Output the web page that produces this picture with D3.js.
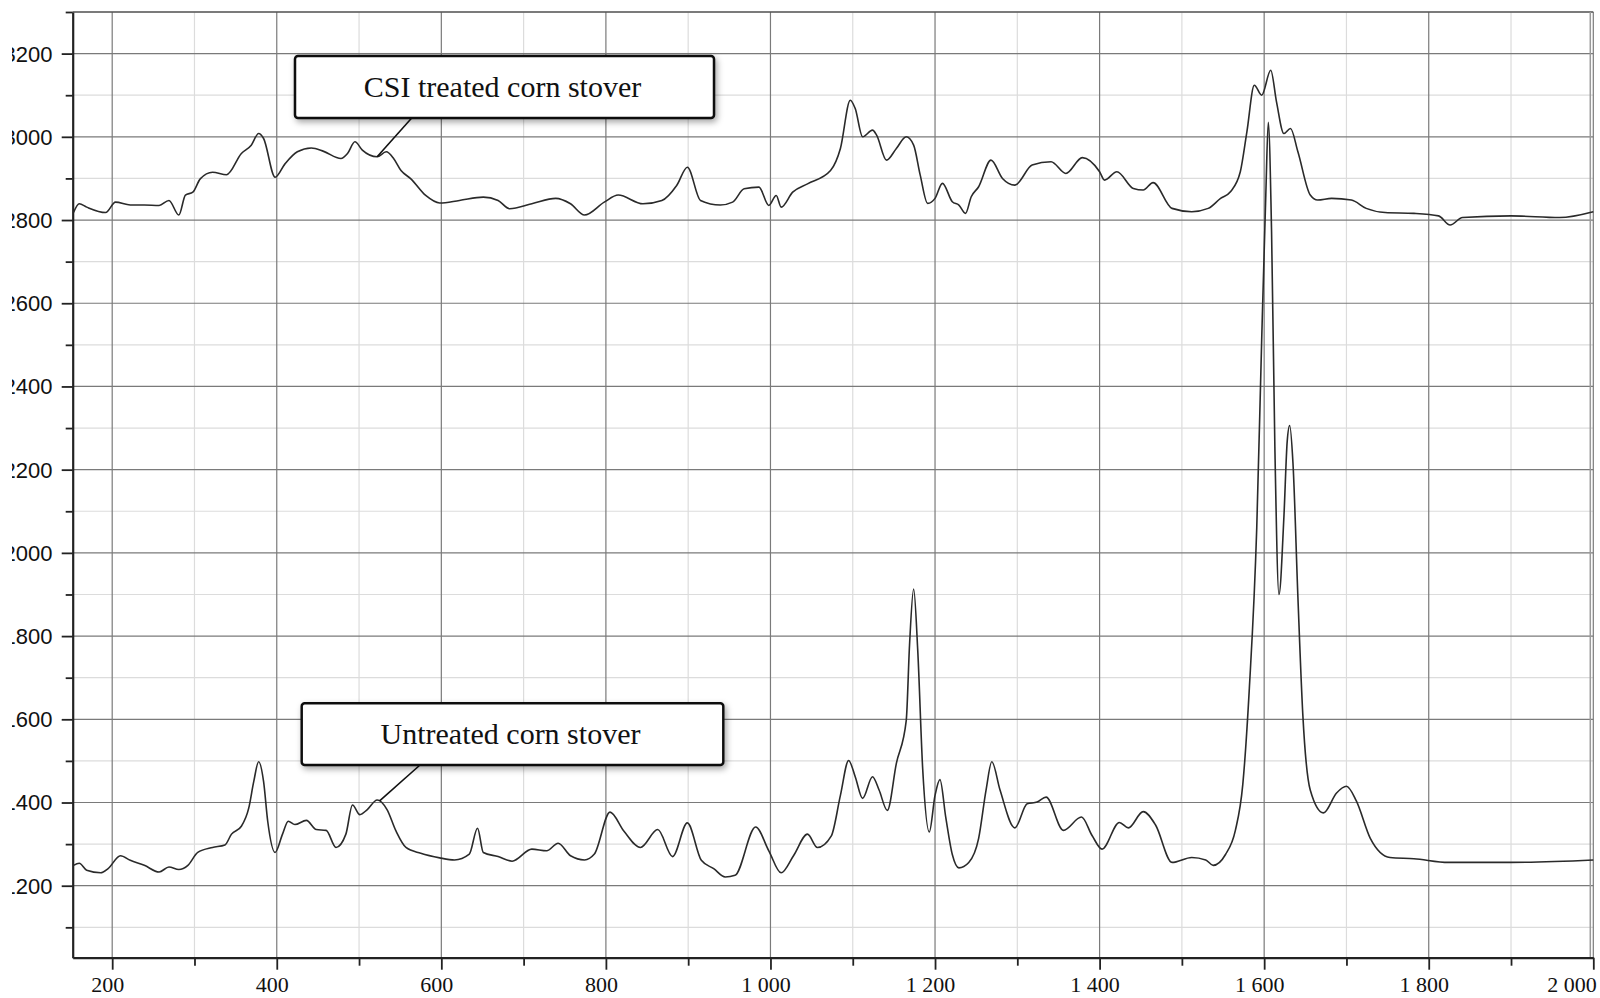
<!DOCTYPE html>
<html>
<head>
<meta charset="utf-8">
<script src="https://cdn.jsdelivr.net/npm/d3@7"></script>
<style>
  body { margin: 0; background: #fff; }
  svg { display: block; }
</style>
</head>
<body>
<div id="chart"></div>
<script>
// Raman spectra: [wavenumber, intensity]
var treated = [
  [153,2818],[160,2839],[169,2831],[192,2818],[204,2843],[222,2836],[239,2836],[257,2835],[269,2847],[281,2812],
  [289,2860],[298,2867],[307,2899],[322,2915],[339,2909],[357,2960],[369,2980],[378,3008],[384,2996],[398,2903],
  [410,2935],[425,2964],[442,2973],[457,2965],[478,2948],[486,2960],[495,2988],[504,2968],[522,2952],[533,2964],
  [542,2948],[551,2919],[563,2899],[581,2859],[598,2841],[622,2847],[651,2855],[669,2847],[683,2827],[710,2839],
  [739,2852],[757,2839],[774,2812],[798,2843],[815,2860],[845,2839],[868,2847],[886,2883],[899,2927],[915,2847],
  [939,2836],[954,2843],[968,2875],[986,2879],[998,2835],[1007,2859],[1013,2831],[1027,2867],[1045,2887],[1073,2919],
  [1085,2972],[1097,3088],[1103,3068],[1112,3000],[1124,3016],[1129,3004],[1141,2944],[1153,2972],[1165,3000],[1174,2980],
  [1182,2908],[1191,2840],[1200,2852],[1209,2888],[1221,2844],[1229,2836],[1237,2816],[1244,2856],[1253,2880],[1268,2944],
  [1282,2900],[1297,2884],[1318,2932],[1341,2940],[1359,2912],[1379,2950],[1400,2916],[1406,2896],[1421,2916],[1441,2876],
  [1453,2872],[1465,2890],[1488,2828],[1512,2820],[1532,2828],[1547,2852],[1559,2868],[1571,2916],[1579,3012],[1588,3124],
  [1597,3100],[1608,3160],[1615,3084],[1624,3008],[1632,3020],[1641,2964],[1656,2860],[1665,2848],[1682,2852],[1706,2848],
  [1724,2828],[1747,2818],[1782,2816],[1812,2810],[1826,2788],[1841,2806],[1900,2810],[1959,2806],[2000,2820]
];

var untreated = [
  [153,1249],[160,1254],[169,1237],[186,1231],[195,1241],[210,1272],[222,1261],[239,1249],[257,1233],[269,1245],
  [281,1239],[292,1249],[304,1280],[322,1292],[337,1298],[345,1324],[357,1343],[366,1387],[372,1450],[378,1498],
  [384,1450],[389,1355],[398,1280],[407,1324],[414,1355],[422,1347],[436,1357],[448,1335],[460,1333],[472,1292],
  [484,1324],[492,1394],[501,1371],[510,1383],[522,1406],[534,1383],[545,1331],[557,1292],[575,1278],[598,1267],
  [616,1262],[634,1276],[644,1338],[651,1280],[669,1270],[686,1259],[710,1288],[728,1284],[742,1302],[757,1272],
  [774,1262],[786,1276],[805,1377],[822,1331],[842,1292],[863,1335],[881,1270],[899,1351],[916,1261],[931,1241],
  [945,1221],[957,1225],[982,1341],[998,1284],[1013,1231],[1028,1272],[1045,1324],[1057,1292],[1074,1320],[1085,1417],
  [1095,1501],[1103,1462],[1112,1410],[1124,1462],[1132,1430],[1142,1381],[1153,1494],[1165,1597],[1169,1778],[1174,1913],
  [1179,1765],[1185,1481],[1193,1329],[1200,1417],[1206,1455],[1213,1365],[1221,1275],[1229,1243],[1241,1256],[1253,1314],
  [1262,1430],[1269,1498],[1279,1430],[1297,1339],[1312,1397],[1324,1401],[1335,1413],[1356,1333],[1378,1365],[1391,1320],
  [1403,1288],[1424,1352],[1435,1339],[1453,1378],[1468,1346],[1488,1256],[1512,1268],[1529,1262],[1538,1249],[1553,1275],
  [1565,1333],[1574,1443],[1582,1675],[1591,2061],[1597,2513],[1602,2861],[1605,3035],[1609,2771],[1613,2255],[1618,1900],
  [1624,2087],[1628,2268],[1631,2306],[1635,2216],[1641,1894],[1647,1610],[1656,1430],[1672,1375],[1688,1423],[1700,1439],
  [1712,1404],[1729,1314],[1753,1268],[1782,1265],[1824,1256],[1900,1256],[2000,1262]
];

var xTicks = [200, 400, 600, 800, 1000, 1200, 1400, 1600, 1800, 2000];
var yTicks = [1200, 1400, 1600, 1800, 2000, 2200, 2400, 2600, 2800, 3000, 3200];

// label text + the point on the curve the leader line points at
var notes = [
  { text: 'CSI treated corn stover', at: [522, 2952] },
  { text: 'Untreated corn stover', at: [525, 1404] }
];

(function(){
var W = 1600, H = 998;
var pL = 72.7, pR = 1593.3, pT = 12, pB = 957.7;

var svg = d3.select('#chart').append('svg')
    .attr('width', W)
    .attr('height', H);

var x = d3.scaleLinear().domain([152, 2000]).range([pL, pR]);
var y = d3.scaleLinear().domain([1027, 3300]).range([pB, pT]);

var fmt = d3.formatLocale({ decimal: '.', thousands: ' ', grouping: [3], currency: ['', ''] }).format(',');

var defs = svg.append('defs');
defs.append('clipPath').attr('id', 'lblclip')
    .append('rect').attr('x', 12).attr('y', 0).attr('width', 200).attr('height', H);
defs.append('filter').attr('id', 'shadow')
    .attr('x', '-10%').attr('y', '-30%').attr('width', '125%').attr('height', '170%')
    .append('feDropShadow')
    .attr('dx', 2).attr('dy', 3).attr('stdDeviation', 3)
    .attr('flood-color', '#000').attr('flood-opacity', 0.35);

// grid
var minorX = d3.range(200, 2000, 100).filter(function(v){ return v % 200 != 0; });
var minorY = d3.range(1100, 3400, 100).filter(function(v){ return v % 200 != 0; });

var grid = svg.append('g');
grid.selectAll('.mx').data(minorX).enter().append('line')
    .attr('x1', d => x(d)).attr('x2', d => x(d))
    .attr('y1', pT).attr('y2', pB)
    .style('stroke', '#dcdcdc').style('stroke-width', 1.2);
grid.selectAll('.my').data(minorY).enter().append('line')
    .attr('x1', pL).attr('x2', pR)
    .attr('y1', d => y(d)).attr('y2', d => y(d))
    .style('stroke', '#dcdcdc').style('stroke-width', 1.2);
grid.selectAll('.gx').data(xTicks).enter().append('line')
    .attr('x1', d => x(d)).attr('x2', d => x(d))
    .attr('y1', pT).attr('y2', pB)
    .style('stroke', '#7a7a7a').style('stroke-width', 1.2);
grid.selectAll('.gy').data(yTicks).enter().append('line')
    .attr('x1', pL).attr('x2', pR)
    .attr('y1', d => y(d)).attr('y2', d => y(d))
    .style('stroke', '#7a7a7a').style('stroke-width', 1.2);

// frame
svg.append('line').attr('x1', pL).attr('x2', pR).attr('y1', pT).attr('y2', pT)
    .style('stroke', '#555').style('stroke-width', 1.5);
svg.append('line').attr('x1', pR - 3).attr('x2', pR - 3).attr('y1', pT).attr('y2', pB)
    .style('stroke', '#999').style('stroke-width', 1.5);

// x axis
var xAxis = d3.axisBottom(x)
    .tickValues(d3.range(200, 2001, 100))
    .tickSize(0)
    .tickFormat('');
var gx = svg.append('g').attr('transform', 'translate(0,' + pB + ')').call(xAxis);
gx.select('.domain').style('stroke', '#222').style('stroke-width', 2.2);
gx.selectAll('.tick').append('line')
    .attr('y1', 0).attr('y2', d => d % 200 == 0 ? 12 : 8)
    .style('stroke', '#222').style('stroke-width', 1.8);
gx.selectAll('.tick').filter(d => d % 200 == 0).append('text')
    .text(d => fmt(d))
    .attr('x', d => d == 2000 ? 3 : -5)
    .attr('y', 34)
    .attr('text-anchor', d => d == 2000 ? 'end' : 'middle')
    .style('font-family', '"Liberation Serif", "Times New Roman", serif')
    .style('font-size', '22px')
    .style('fill', '#111');

// y axis
var yAxis = d3.axisLeft(y)
    .tickValues(d3.range(1100, 3301, 100))
    .tickSize(0)
    .tickFormat('');
var gy = svg.append('g').attr('transform', 'translate(' + pL + ',0)').call(yAxis);
gy.select('.domain').style('stroke', '#222').style('stroke-width', 2.2);
gy.selectAll('.tick').append('line')
    .attr('x1', 0).attr('x2', d => d % 200 == 0 ? -11 : -7)
    .style('stroke', '#222').style('stroke-width', 1.8);

svg.append('g').attr('clip-path', 'url(#lblclip)')
  .selectAll('text').data(yTicks).enter().append('text')
    .text(d => d)
    .attr('x', 52.5)
    .attr('y', d => y(d))
    .attr('dy', '0.36em')
    .attr('text-anchor', 'end')
    .style('font-family', '"Liberation Sans", Arial, sans-serif')
    .style('font-size', '22px')
    .style('fill', '#111');

// spectra
var line = d3.line()
    .x(d => x(d[0]))
    .y(d => y(d[1]))
    .curve(d3.curveMonotoneX);

[treated, untreated].forEach(function(s){
  svg.append('path')
      .datum(s)
      .attr('d', line)
      .style('fill', 'none')
      .style('stroke', '#2a2a2a')
      .style('stroke-width', 1.6)
      .style('stroke-linejoin', 'round');
});

// callouts
var boxes = [
  { x: 295, y: 56, w: 419, h: 62, from: [411.7, 118] },
  { x: 301.7, y: 703.3, w: 421.6, h: 61.7, from: [420, 765] }
];

notes.forEach(function(n, i){
  var b = boxes[i];
  svg.append('line')
      .attr('x1', b.from[0]).attr('y1', b.from[1])
      .attr('x2', x(n.at[0])).attr('y2', y(n.at[1]))
      .style('stroke', '#111').style('stroke-width', 1.6);
  svg.append('rect')
      .attr('x', b.x).attr('y', b.y)
      .attr('width', b.w).attr('height', b.h)
      .attr('rx', 3)
      .style('fill', '#fff')
      .style('stroke', '#111')
      .style('stroke-width', 2.5)
      .attr('filter', 'url(#shadow)');
  svg.append('text')
      .text(n.text)
      .attr('x', b.x + b.w / 2 - 2)
      .attr('y', b.y + b.h / 2 + 10)
      .attr('text-anchor', 'middle')
      .style('font-family', '"Liberation Serif", "Times New Roman", serif')
      .style('font-size', '30px')
      .style('fill', '#111');
});
})();
</script>
</body>
</html>
